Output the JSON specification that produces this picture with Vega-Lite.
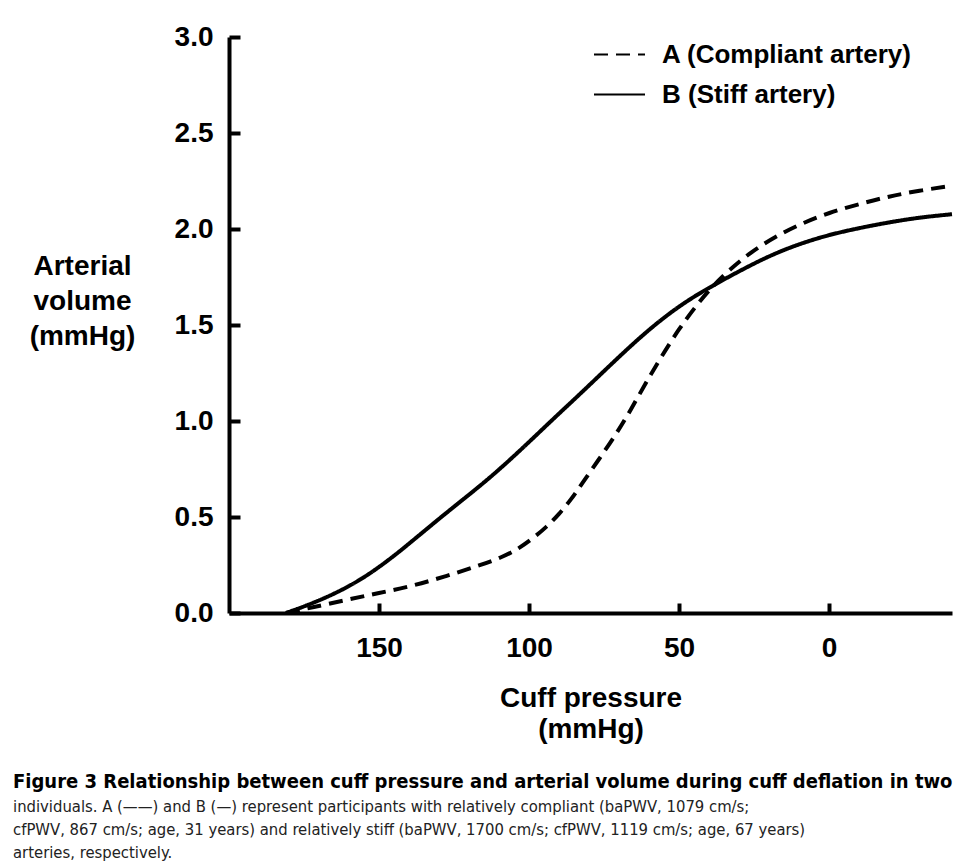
{
  "$schema": "https://vega.github.io/schema/vega-lite/v6.json",
  "width": 723,
  "height": 576,
  "autosize": "none",
  "padding": {"left": 229, "top": 37, "right": 7, "bottom": 255},
  "background": "white",
  "config": {"view": {"stroke": null}, "font": "Liberation Sans"},
  "data": {"values": [
    {"artery": "A (Compliant artery)", "pressure": 181, "volume": 0},
    {"artery": "A (Compliant artery)", "pressure": 172, "volume": 0.03},
    {"artery": "A (Compliant artery)", "pressure": 161, "volume": 0.068},
    {"artery": "A (Compliant artery)", "pressure": 150, "volume": 0.104},
    {"artery": "A (Compliant artery)", "pressure": 139, "volume": 0.14},
    {"artery": "A (Compliant artery)", "pressure": 128, "volume": 0.19},
    {"artery": "A (Compliant artery)", "pressure": 117, "volume": 0.245},
    {"artery": "A (Compliant artery)", "pressure": 109, "volume": 0.29},
    {"artery": "A (Compliant artery)", "pressure": 104, "volume": 0.33},
    {"artery": "A (Compliant artery)", "pressure": 99, "volume": 0.385},
    {"artery": "A (Compliant artery)", "pressure": 94, "volume": 0.45},
    {"artery": "A (Compliant artery)", "pressure": 90, "volume": 0.515},
    {"artery": "A (Compliant artery)", "pressure": 86, "volume": 0.59},
    {"artery": "A (Compliant artery)", "pressure": 82.3, "volume": 0.675},
    {"artery": "A (Compliant artery)", "pressure": 76.7, "volume": 0.8},
    {"artery": "A (Compliant artery)", "pressure": 71, "volume": 0.93},
    {"artery": "A (Compliant artery)", "pressure": 66, "volume": 1.06},
    {"artery": "A (Compliant artery)", "pressure": 61, "volume": 1.2},
    {"artery": "A (Compliant artery)", "pressure": 55.7, "volume": 1.34},
    {"artery": "A (Compliant artery)", "pressure": 50, "volume": 1.48},
    {"artery": "A (Compliant artery)", "pressure": 44.3, "volume": 1.6},
    {"artery": "A (Compliant artery)", "pressure": 39, "volume": 1.7},
    {"artery": "A (Compliant artery)", "pressure": 33, "volume": 1.79},
    {"artery": "A (Compliant artery)", "pressure": 26, "volume": 1.88},
    {"artery": "A (Compliant artery)", "pressure": 18, "volume": 1.96},
    {"artery": "A (Compliant artery)", "pressure": 9, "volume": 2.03},
    {"artery": "A (Compliant artery)", "pressure": 0, "volume": 2.085},
    {"artery": "A (Compliant artery)", "pressure": -10, "volume": 2.13},
    {"artery": "A (Compliant artery)", "pressure": -20, "volume": 2.17},
    {"artery": "A (Compliant artery)", "pressure": -30, "volume": 2.2},
    {"artery": "A (Compliant artery)", "pressure": -41, "volume": 2.225},
    {"artery": "B (Stiff artery)", "pressure": 181, "volume": 0},
    {"artery": "B (Stiff artery)", "pressure": 176, "volume": 0.028},
    {"artery": "B (Stiff artery)", "pressure": 170, "volume": 0.065},
    {"artery": "B (Stiff artery)", "pressure": 164, "volume": 0.107},
    {"artery": "B (Stiff artery)", "pressure": 157, "volume": 0.165},
    {"artery": "B (Stiff artery)", "pressure": 150, "volume": 0.238},
    {"artery": "B (Stiff artery)", "pressure": 143, "volume": 0.322},
    {"artery": "B (Stiff artery)", "pressure": 137, "volume": 0.4},
    {"artery": "B (Stiff artery)", "pressure": 126, "volume": 0.542},
    {"artery": "B (Stiff artery)", "pressure": 114, "volume": 0.69},
    {"artery": "B (Stiff artery)", "pressure": 103, "volume": 0.845},
    {"artery": "B (Stiff artery)", "pressure": 92, "volume": 1.01},
    {"artery": "B (Stiff artery)", "pressure": 83, "volume": 1.14},
    {"artery": "B (Stiff artery)", "pressure": 72, "volume": 1.305},
    {"artery": "B (Stiff artery)", "pressure": 61, "volume": 1.465},
    {"artery": "B (Stiff artery)", "pressure": 50, "volume": 1.6},
    {"artery": "B (Stiff artery)", "pressure": 40, "volume": 1.695},
    {"artery": "B (Stiff artery)", "pressure": 30, "volume": 1.78},
    {"artery": "B (Stiff artery)", "pressure": 20, "volume": 1.86},
    {"artery": "B (Stiff artery)", "pressure": 10, "volume": 1.922},
    {"artery": "B (Stiff artery)", "pressure": 0, "volume": 1.97},
    {"artery": "B (Stiff artery)", "pressure": -10, "volume": 2.005},
    {"artery": "B (Stiff artery)", "pressure": -20, "volume": 2.035},
    {"artery": "B (Stiff artery)", "pressure": -30, "volume": 2.06},
    {"artery": "B (Stiff artery)", "pressure": -41, "volume": 2.077}
  ]},
  "mark": {"type": "line", "interpolate": "basis", "strokeWidth": 4, "color": "black", "clip": false},
  "encoding": {
    "x": {
      "field": "pressure", "type": "quantitative",
      "scale": {"domain": [200, -41], "nice": false, "zero": false},
      "axis": {
        "values": [150, 100, 50, 0],
        "grid": false,
        "domainColor": "black", "domainWidth": 4,
        "ticks": true,
        "tickColor": "black", "tickWidth": 4, "tickSize": -10,
        "labelFontSize": 28, "labelFontWeight": "bold", "labelColor": "black", "labelPadding": 31, "labelFlush": false,
        "title": ["Cuff pressure", "(mmHg)"],
        "titleFontSize": 28, "titleFontWeight": "bold", "titleColor": "black",
        "titleLineHeight": 31, "titleBaseline": "alphabetic", "titleY": 93
      }
    },
    "y": {
      "field": "volume", "type": "quantitative",
      "scale": {"domain": [0, 3], "nice": false},
      "axis": {
        "values": [0, 0.5, 1, 1.5, 2, 2.5, 3],
        "format": ".1f",
        "grid": false,
        "domainColor": "black", "domainWidth": 4,
        "ticks": true,
        "tickColor": "black", "tickWidth": 4, "tickSize": -11,
        "labelFontSize": 28, "labelFontWeight": "bold", "labelColor": "black", "labelPadding": 27, "labelFlush": false,
        "title": ["Arterial", "volume", "(mmHg)"],
        "titleFontSize": 28, "titleFontWeight": "bold", "titleColor": "black",
        "titleAngle": 0, "titleAlign": "center", "titleBaseline": "alphabetic",
        "titleX": -147, "titleY": 237, "titleLineHeight": 35
      }
    },
    "strokeDash": {
      "field": "artery", "type": "nominal",
      "scale": {"domain": ["A (Compliant artery)", "B (Stiff artery)"], "range": [[14, 8], [1, 0]]},
      "legend": {
        "orient": "none", "legendX": 364, "legendY": -9,
        "title": null, "padding": 0,
        "symbolType": "stroke", "symbolSize": 2601, "symbolStrokeWidth": 2, "symbolStrokeColor": "black",
        "labelFontSize": 26, "labelFontWeight": "bold", "labelColor": "black", "labelOffset": 16, "labelLimit": 400,
        "rowPadding": -11,
        "encode": {"symbols": {"update": {"strokeDash": {"signal": "datum.value === 'A (Compliant artery)' ? [7, 4] : [1, 0]"}}}}
      }
    }
  },
  "title": {
    "text": "Figure 3 Relationship between cuff pressure and arterial volume during cuff deflation in two",
    "subtitle": [
      "individuals. A (——) and B (—) represent participants with relatively compliant (baPWV, 1079 cm/s;",
      "cfPWV, 867 cm/s; age, 31 years) and relatively stiff (baPWV, 1700 cm/s; cfPWV, 1119 cm/s; age, 67 years)",
      "arteries, respectively."
    ],
    "orient": "bottom", "anchor": "start", "frame": "group", "dx": -216, "offset": 29,
    "font": "DejaVu Sans Condensed, Liberation Sans, sans-serif", "fontSize": 20, "fontWeight": "bold", "color": "black",
    "subtitleFont": "DejaVu Sans Condensed, Liberation Sans, sans-serif", "subtitleFontSize": 16.5, "subtitleColor": "#222", "subtitleLineHeight": 23, "subtitlePadding": 7
  }
}
